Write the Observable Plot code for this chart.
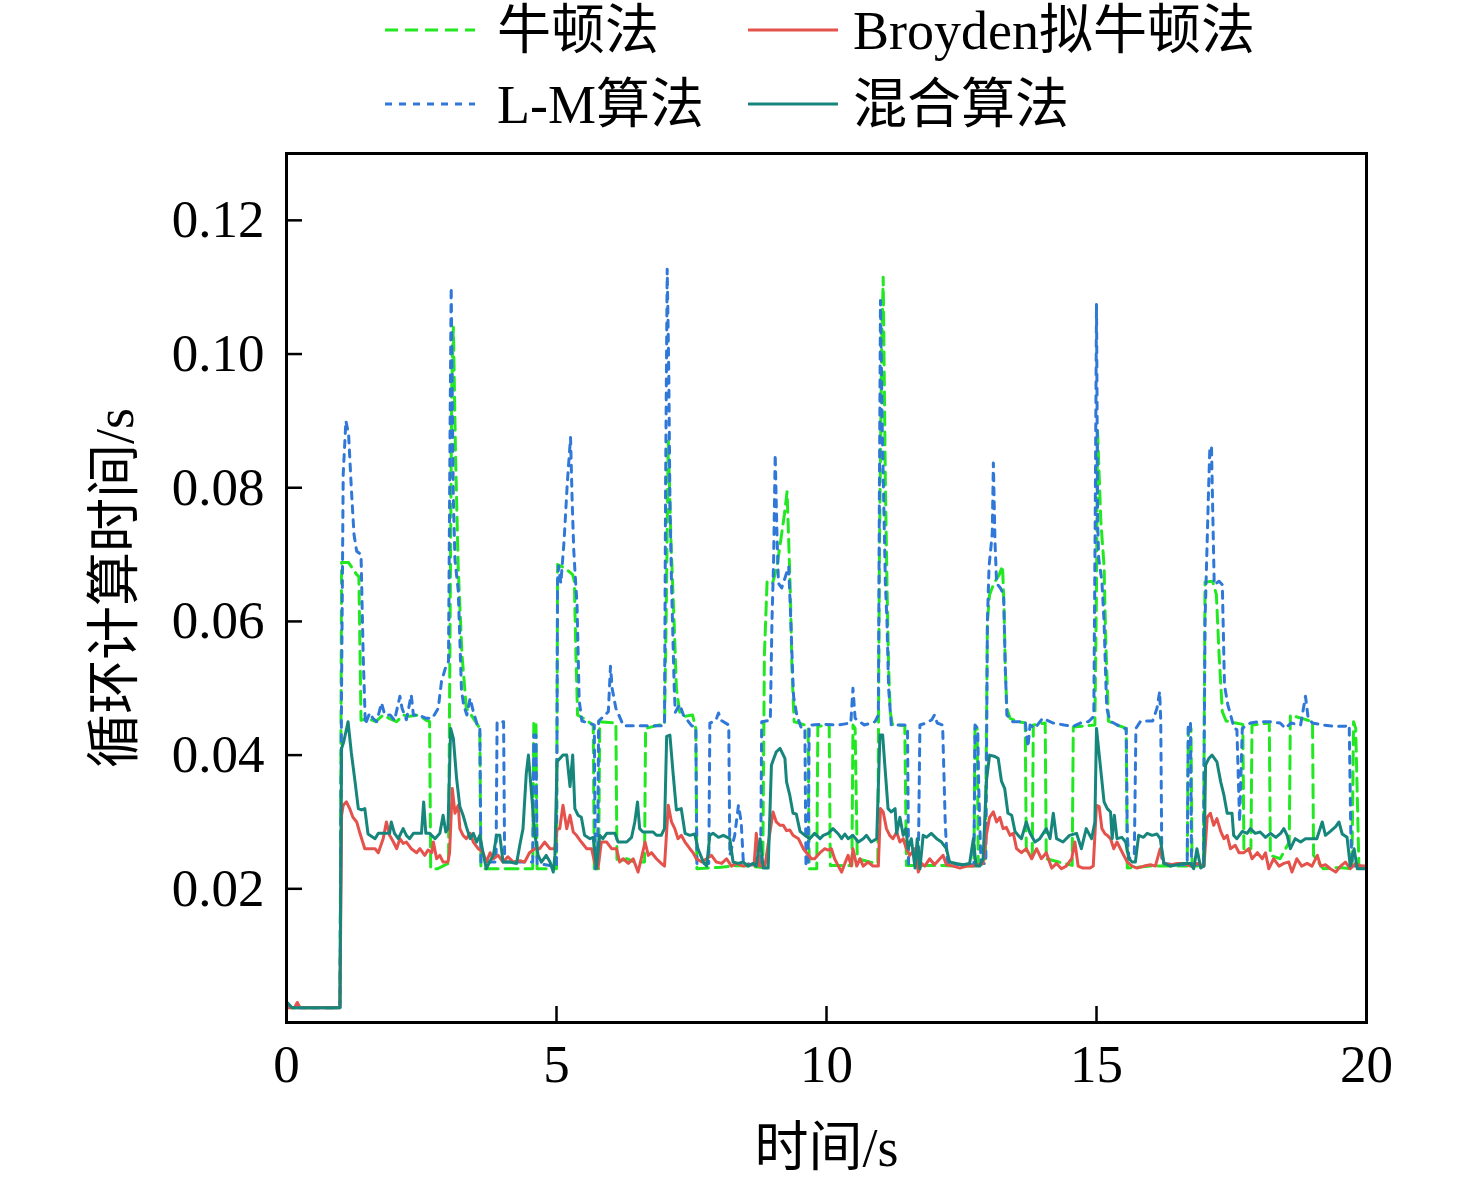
<!DOCTYPE html>
<html>
<head>
<meta charset="utf-8">
<script src="https://cdn.jsdelivr.net/npm/d3@7"></script>
<script src="https://cdn.jsdelivr.net/npm/@observablehq/plot@0.6"></script>
<style>
  html, body { margin: 0; padding: 0; background: #fff; }
  #wrap { position: relative; width: 1476px; height: 1186px; }
  #legend { position: absolute; left: 0; top: 0; }
  text { font-family: "Liberation Serif", "Noto Sans CJK SC", serif; }
</style>
</head>
<body>
<div id="wrap"><div id="chart"></div></div>
<script>
// ---------- data (time in s, loop computation time in s) ----------
const seriesNames = ["牛顿法", "L-M算法", "Broyden拟牛顿法", "混合算法"];
const seriesColors = ["#22e822", "#2f78d8", "#e5524c", "#16857c"];
const xTicks = [0, 5, 10, 15, 20];
const yTicks = [0.02, 0.04, 0.06, 0.08, 0.10, 0.12];

const newton = [[0,0.003],[0.1,0.0022],[0.99,0.0022],[1.02,0.0688],[1.15,0.0688],[1.3,0.067],[1.34,0.0667],[1.38,0.0452],[1.5,0.0455],[1.65,0.045],[1.79,0.046],[1.9,0.0455],[2.04,0.045],[2.16,0.046],[2.28,0.0458],[2.44,0.046],[2.59,0.0452],[2.65,0.045],[2.67,0.023],[2.8,0.023],[2.92,0.0235],[3.0,0.0238],[3.03,0.06],[3.06,0.095],[3.09,0.104],[3.13,0.085],[3.18,0.068],[3.25,0.055],[3.33,0.047],[3.42,0.046],[3.5,0.045],[3.58,0.044],[3.6,0.023],[4.56,0.023],[4.58,0.045],[4.62,0.045],[4.64,0.023],[5.0,0.023],[5.02,0.0685],[5.15,0.068],[5.3,0.067],[5.33,0.066],[5.36,0.055],[5.39,0.046],[5.5,0.0455],[5.68,0.0445],[5.7,0.023],[5.78,0.023],[5.8,0.045],[6.1,0.0448],[6.12,0.024],[6.3,0.0245],[6.45,0.024],[6.63,0.024],[6.65,0.044],[6.9,0.0445],[7.0,0.0445],[7.03,0.06],[7.07,0.087],[7.12,0.072],[7.18,0.0595],[7.22,0.050],[7.28,0.0465],[7.37,0.0458],[7.52,0.046],[7.58,0.044],[7.6,0.023],[8.0,0.0232],[8.4,0.0235],[8.82,0.0232],[8.85,0.055],[8.9,0.066],[9.0,0.0657],[9.08,0.068],[9.15,0.072],[9.22,0.076],[9.27,0.0794],[9.3,0.072],[9.33,0.0645],[9.36,0.053],[9.4,0.045],[9.5,0.0448],[9.66,0.0443],[9.68,0.023],[9.82,0.023],[9.84,0.0443],[10.05,0.0445],[10.07,0.0235],[10.47,0.0235],[10.49,0.0445],[10.53,0.044],[10.57,0.0245],[10.8,0.024],[10.95,0.0238],[10.98,0.07],[11.02,0.1],[11.05,0.1115],[11.09,0.0807],[11.12,0.0657],[11.15,0.0532],[11.18,0.0465],[11.22,0.0446],[11.45,0.0444],[11.48,0.0235],[12.0,0.0235],[12.5,0.0234],[12.73,0.0234],[12.75,0.044],[12.79,0.044],[12.81,0.0236],[12.94,0.0238],[12.98,0.06],[13.02,0.064],[13.1,0.0657],[13.2,0.067],[13.26,0.0683],[13.29,0.0614],[13.31,0.0532],[13.34,0.047],[13.4,0.0455],[13.55,0.045],[13.68,0.0448],[13.7,0.0255],[13.81,0.025],[13.83,0.0445],[14.05,0.0448],[14.07,0.0245],[14.3,0.024],[14.55,0.0235],[14.57,0.0442],[14.97,0.0445],[15.0,0.065],[15.02,0.0885],[15.08,0.075],[15.14,0.0683],[15.17,0.0575],[15.2,0.0505],[15.22,0.0451],[15.35,0.0446],[15.55,0.044],[15.57,0.0231],[16.0,0.0234],[16.68,0.0234],[16.7,0.044],[16.75,0.044],[16.77,0.0234],[16.98,0.0234],[17.01,0.0659],[17.15,0.066],[17.22,0.064],[17.27,0.055],[17.33,0.0465],[17.4,0.0451],[17.58,0.0448],[17.71,0.0446],[17.73,0.0255],[17.86,0.026],[17.88,0.0445],[18.2,0.0448],[18.22,0.025],[18.4,0.0245],[18.57,0.027],[18.59,0.046],[18.8,0.0455],[19.0,0.045],[19.02,0.025],[19.2,0.023],[19.5,0.0232],[19.73,0.023],[19.76,0.045],[19.8,0.044],[19.86,0.0232],[20.0,0.0232]];

const levenberg = [[0,0.003],[0.1,0.0022],[0.99,0.0022],[1.02,0.05],[1.05,0.082],[1.1,0.090],[1.15,0.088],[1.2,0.080],[1.25,0.073],[1.3,0.0705],[1.38,0.070],[1.42,0.055],[1.46,0.0446],[1.54,0.0463],[1.6,0.0455],[1.67,0.045],[1.76,0.0478],[1.82,0.046],[1.92,0.046],[2.0,0.0452],[2.1,0.0488],[2.14,0.047],[2.22,0.0453],[2.31,0.049],[2.35,0.046],[2.44,0.046],[2.59,0.0455],[2.7,0.0455],[2.81,0.047],[2.87,0.051],[2.96,0.0535],[3.0,0.054],[3.03,0.09],[3.05,0.110],[3.07,0.0931],[3.09,0.0782],[3.12,0.0692],[3.18,0.0647],[3.21,0.0573],[3.24,0.0498],[3.28,0.0475],[3.34,0.046],[3.4,0.0485],[3.46,0.0465],[3.53,0.0446],[3.58,0.0444],[3.6,0.024],[3.88,0.024],[3.9,0.045],[4.02,0.045],[4.04,0.024],[4.56,0.024],[4.58,0.043],[4.62,0.043],[4.64,0.0238],[4.94,0.0234],[5.0,0.0234],[5.02,0.066],[5.04,0.0683],[5.08,0.0657],[5.14,0.072],[5.2,0.0807],[5.26,0.0875],[5.29,0.078],[5.32,0.0706],[5.35,0.0664],[5.38,0.0626],[5.42,0.0482],[5.47,0.0451],[5.6,0.0448],[5.7,0.0445],[5.72,0.023],[5.76,0.023],[5.78,0.0451],[5.9,0.046],[5.96,0.0465],[6.0,0.0533],[6.03,0.05],[6.1,0.047],[6.24,0.0444],[6.5,0.0444],[6.8,0.0444],[7.0,0.0444],[7.02,0.08],[7.05,0.1127],[7.08,0.0968],[7.1,0.0783],[7.13,0.0657],[7.16,0.0563],[7.18,0.0501],[7.2,0.0464],[7.28,0.0476],[7.35,0.046],[7.5,0.0444],[7.58,0.0442],[7.6,0.0238],[7.82,0.0238],[7.84,0.0448],[7.95,0.0452],[8.0,0.0463],[8.05,0.0452],[8.19,0.0445],[8.21,0.025],[8.3,0.028],[8.37,0.0325],[8.42,0.030],[8.46,0.024],[8.6,0.0236],[8.78,0.0236],[8.8,0.045],[8.96,0.0452],[8.99,0.06],[9.02,0.0688],[9.05,0.085],[9.08,0.074],[9.11,0.0657],[9.17,0.065],[9.3,0.0682],[9.34,0.06],[9.37,0.053],[9.39,0.0488],[9.45,0.046],[9.54,0.0439],[9.6,0.0439],[9.62,0.0235],[9.66,0.0235],[9.68,0.0445],[9.9,0.0446],[10.2,0.0445],[10.45,0.0448],[10.49,0.050],[10.53,0.0455],[10.7,0.0445],[10.9,0.045],[10.96,0.046],[10.98,0.08],[11.0,0.108],[11.03,0.09],[11.09,0.0657],[11.12,0.06],[11.15,0.05],[11.2,0.0445],[11.45,0.0445],[11.5,0.044],[11.52,0.0236],[11.7,0.0236],[11.73,0.0445],[11.85,0.0448],[11.95,0.0453],[12.0,0.046],[12.05,0.0448],[12.15,0.0445],[12.2,0.0296],[12.24,0.0238],[12.5,0.0236],[12.73,0.0236],[12.75,0.0445],[12.8,0.044],[12.82,0.035],[12.86,0.0238],[12.95,0.0238],[12.98,0.06],[13.01,0.0682],[13.07,0.0732],[13.09,0.0837],[13.12,0.072],[13.15,0.0657],[13.22,0.065],[13.28,0.064],[13.31,0.0533],[13.34,0.046],[13.45,0.045],[13.68,0.045],[13.73,0.0412],[13.77,0.0445],[13.86,0.044],[14.0,0.0455],[14.2,0.0448],[14.4,0.0445],[14.57,0.0443],[14.7,0.0448],[14.85,0.045],[14.95,0.0458],[14.98,0.08],[15.0,0.1074],[15.01,0.0932],[15.02,0.0754],[15.04,0.0695],[15.1,0.066],[15.14,0.06],[15.17,0.0517],[15.19,0.047],[15.25,0.0451],[15.5,0.044],[15.55,0.044],[15.57,0.028],[15.6,0.0245],[15.7,0.025],[15.73,0.044],[15.82,0.0451],[16.04,0.0451],[16.12,0.047],[16.17,0.0495],[16.19,0.045],[16.21,0.0238],[16.5,0.0236],[16.68,0.0236],[16.7,0.0448],[16.74,0.0448],[16.76,0.0236],[16.98,0.0236],[17.01,0.06],[17.07,0.0782],[17.1,0.0862],[17.13,0.086],[17.15,0.0775],[17.18,0.0655],[17.27,0.066],[17.33,0.0655],[17.37,0.0505],[17.43,0.0476],[17.55,0.044],[17.6,0.0438],[17.65,0.030],[17.7,0.044],[17.85,0.0448],[18.0,0.045],[18.2,0.045],[18.4,0.0448],[18.5,0.044],[18.6,0.0448],[18.78,0.0445],[18.87,0.0488],[18.92,0.0455],[19.0,0.0448],[19.2,0.0445],[19.4,0.0443],[19.6,0.0443],[19.68,0.0445],[19.71,0.028],[19.74,0.0234],[19.85,0.0234],[20.0,0.0234]];

const broyden = [[0,0.0022],[0.15,0.0022],[0.2,0.003],[0.25,0.0022],[0.99,0.0022],[1.02,0.031],[1.05,0.0325],[1.11,0.033],[1.17,0.032],[1.23,0.0307],[1.3,0.030],[1.36,0.0283],[1.45,0.026],[1.55,0.026],[1.64,0.026],[1.7,0.0254],[1.79,0.0275],[1.85,0.030],[1.91,0.028],[1.98,0.027],[2.04,0.026],[2.1,0.0275],[2.16,0.0268],[2.22,0.027],[2.31,0.026],[2.41,0.0254],[2.47,0.026],[2.56,0.025],[2.62,0.0258],[2.69,0.0254],[2.72,0.027],[2.78,0.0245],[2.84,0.025],[2.9,0.024],[2.99,0.024],[3.02,0.0254],[3.07,0.035],[3.12,0.0313],[3.18,0.0325],[3.21,0.029],[3.27,0.028],[3.33,0.0275],[3.4,0.0283],[3.46,0.027],[3.55,0.026],[3.64,0.0254],[3.7,0.024],[3.77,0.0254],[3.83,0.0245],[3.92,0.025],[4.01,0.024],[4.1,0.0248],[4.2,0.024],[4.32,0.0242],[4.41,0.024],[4.5,0.0254],[4.6,0.026],[4.69,0.026],[4.78,0.027],[4.88,0.026],[4.97,0.026],[5.01,0.029],[5.06,0.029],[5.12,0.0325],[5.19,0.029],[5.25,0.031],[5.31,0.0285],[5.37,0.028],[5.46,0.027],[5.56,0.026],[5.65,0.026],[5.71,0.0238],[5.77,0.0231],[5.83,0.027],[5.93,0.027],[6.02,0.026],[6.11,0.026],[6.17,0.024],[6.23,0.0245],[6.33,0.0238],[6.42,0.0245],[6.51,0.0225],[6.57,0.0245],[6.64,0.027],[6.7,0.025],[6.76,0.0254],[6.85,0.0245],[6.94,0.0238],[7.0,0.0234],[7.07,0.0325],[7.13,0.030],[7.19,0.029],[7.25,0.0275],[7.31,0.028],[7.38,0.027],[7.47,0.026],[7.53,0.0254],[7.59,0.0245],[7.69,0.024],[7.78,0.0245],[7.87,0.025],[7.96,0.024],[8.06,0.0238],[8.15,0.0245],[8.24,0.0234],[8.33,0.0238],[8.46,0.0234],[8.58,0.0236],[8.66,0.0236],[8.7,0.0283],[8.76,0.0234],[8.86,0.0234],[8.95,0.0283],[9.01,0.0315],[9.07,0.030],[9.14,0.0295],[9.2,0.0295],[9.26,0.0287],[9.32,0.0288],[9.38,0.028],[9.48,0.0275],[9.57,0.026],[9.63,0.0254],[9.72,0.0245],[9.78,0.0245],[9.88,0.0254],[9.97,0.026],[10.03,0.0258],[10.09,0.026],[10.15,0.0245],[10.22,0.0234],[10.28,0.0225],[10.34,0.0238],[10.4,0.025],[10.46,0.0234],[10.49,0.026],[10.56,0.0234],[10.62,0.0245],[10.68,0.0234],[10.77,0.024],[10.86,0.0234],[10.96,0.0234],[11.0,0.032],[11.05,0.0315],[11.11,0.029],[11.17,0.028],[11.23,0.0275],[11.3,0.0285],[11.36,0.027],[11.42,0.0275],[11.48,0.026],[11.54,0.025],[11.64,0.026],[11.7,0.0225],[11.76,0.0238],[11.82,0.0234],[11.91,0.0245],[12.0,0.0236],[12.1,0.0245],[12.16,0.025],[12.22,0.0236],[12.35,0.0234],[12.47,0.0231],[12.6,0.0234],[12.72,0.0234],[12.81,0.0236],[12.9,0.0238],[12.96,0.028],[13.02,0.0307],[13.09,0.0315],[13.15,0.030],[13.21,0.0307],[13.27,0.029],[13.33,0.0292],[13.4,0.028],[13.46,0.0283],[13.52,0.026],[13.61,0.0254],[13.7,0.026],[13.8,0.0245],[13.89,0.026],[13.98,0.0245],[14.07,0.0254],[14.17,0.0231],[14.26,0.0238],[14.35,0.023],[14.44,0.0234],[14.54,0.0245],[14.6,0.027],[14.66,0.0234],[14.75,0.0231],[14.88,0.0231],[14.94,0.0234],[15.0,0.0325],[15.05,0.0323],[15.1,0.029],[15.16,0.0282],[15.2,0.028],[15.26,0.0275],[15.32,0.026],[15.38,0.027],[15.48,0.0254],[15.57,0.024],[15.66,0.0234],[15.75,0.0231],[15.88,0.0234],[16.0,0.0236],[16.09,0.0234],[16.18,0.026],[16.25,0.0238],[16.37,0.0236],[16.5,0.0238],[16.62,0.0238],[16.74,0.0234],[16.86,0.0238],[16.99,0.0234],[17.05,0.0307],[17.11,0.0313],[17.17,0.0295],[17.23,0.0305],[17.3,0.0286],[17.36,0.0275],[17.42,0.028],[17.48,0.026],[17.57,0.0265],[17.64,0.0254],[17.73,0.0254],[17.82,0.026],[17.88,0.0245],[17.98,0.0254],[18.07,0.0245],[18.13,0.0254],[18.19,0.023],[18.28,0.0245],[18.38,0.0234],[18.47,0.0238],[18.56,0.024],[18.62,0.0225],[18.71,0.0245],[18.8,0.0234],[18.9,0.0238],[18.99,0.0234],[19.09,0.025],[19.15,0.0234],[19.24,0.0236],[19.33,0.023],[19.43,0.0225],[19.52,0.0234],[19.61,0.024],[19.7,0.023],[19.8,0.0238],[19.89,0.0234],[20.0,0.0234]];

const hybrid = [[0,0.0031],[0.1,0.0022],[0.99,0.0022],[1.02,0.041],[1.06,0.042],[1.14,0.045],[1.2,0.0404],[1.27,0.036],[1.33,0.032],[1.39,0.0318],[1.45,0.032],[1.51,0.0282],[1.64,0.0275],[1.7,0.0283],[1.91,0.0283],[1.94,0.030],[2.0,0.0283],[2.07,0.0275],[2.16,0.029],[2.22,0.028],[2.28,0.0275],[2.35,0.0283],[2.5,0.0283],[2.54,0.033],[2.58,0.0283],[2.65,0.0283],[2.75,0.0275],[2.84,0.0283],[2.9,0.031],[2.95,0.0285],[2.99,0.029],[3.04,0.044],[3.09,0.0425],[3.15,0.0365],[3.21,0.0323],[3.27,0.031],[3.33,0.0293],[3.4,0.0275],[3.46,0.0283],[3.52,0.027],[3.58,0.028],[3.64,0.0254],[3.7,0.023],[3.76,0.024],[3.83,0.025],[3.89,0.028],[3.95,0.028],[4.01,0.024],[4.14,0.024],[4.26,0.0238],[4.32,0.0265],[4.38,0.029],[4.44,0.0372],[4.48,0.040],[4.54,0.034],[4.6,0.028],[4.66,0.025],[4.72,0.024],[4.81,0.025],[4.88,0.024],[4.94,0.0225],[4.97,0.025],[5.01,0.039],[5.12,0.040],[5.19,0.040],[5.25,0.0353],[5.3,0.040],[5.34,0.032],[5.4,0.031],[5.46,0.0307],[5.52,0.028],[5.62,0.0275],[5.68,0.0277],[5.74,0.0231],[5.8,0.028],[5.86,0.0275],[5.93,0.0283],[6.08,0.0283],[6.14,0.027],[6.3,0.027],[6.39,0.0277],[6.45,0.030],[6.5,0.033],[6.54,0.029],[6.6,0.0285],[6.7,0.0285],[6.79,0.0285],[6.85,0.028],[6.94,0.028],[7.0,0.029],[7.04,0.0428],[7.1,0.043],[7.16,0.0372],[7.22,0.0318],[7.31,0.032],[7.38,0.0283],[7.47,0.028],[7.56,0.0282],[7.62,0.026],[7.72,0.024],[7.78,0.0234],[7.84,0.028],[7.9,0.0283],[8.0,0.0277],[8.09,0.028],[8.21,0.0275],[8.27,0.024],[8.36,0.0238],[8.46,0.024],[8.55,0.0234],[8.64,0.0238],[8.7,0.0234],[8.77,0.0275],[8.83,0.0231],[8.92,0.0231],[8.98,0.0385],[9.07,0.0405],[9.14,0.041],[9.23,0.0395],[9.26,0.036],[9.32,0.034],[9.38,0.0313],[9.44,0.0312],[9.51,0.0286],[9.6,0.028],[9.69,0.0275],[9.78,0.0283],[9.88,0.0275],[9.94,0.028],[10.03,0.0283],[10.12,0.029],[10.22,0.0282],[10.28,0.0275],[10.34,0.0282],[10.4,0.0275],[10.49,0.028],[10.59,0.027],[10.68,0.0275],[10.74,0.028],[10.83,0.027],[10.93,0.0275],[10.99,0.043],[11.04,0.043],[11.08,0.0385],[11.14,0.032],[11.2,0.0315],[11.27,0.032],[11.3,0.0283],[11.36,0.0307],[11.42,0.028],[11.47,0.029],[11.51,0.026],[11.57,0.0275],[11.64,0.0231],[11.68,0.0275],[11.73,0.023],[11.79,0.028],[11.85,0.0277],[11.94,0.0283],[12.04,0.0275],[12.13,0.027],[12.22,0.026],[12.28,0.024],[12.4,0.0238],[12.53,0.0236],[12.65,0.0238],[12.72,0.0275],[12.77,0.0234],[12.84,0.0234],[12.9,0.0245],[12.96,0.036],[13.02,0.040],[13.12,0.0398],[13.18,0.0395],[13.24,0.0361],[13.3,0.035],[13.36,0.0313],[13.43,0.031],[13.49,0.0286],[13.55,0.028],[13.61,0.0275],[13.7,0.030],[13.77,0.0283],[13.86,0.027],[13.95,0.0275],[14.07,0.029],[14.14,0.0275],[14.2,0.0313],[14.26,0.0275],[14.38,0.027],[14.5,0.028],[14.63,0.0283],[14.72,0.026],[14.81,0.029],[14.91,0.0275],[14.97,0.030],[15.0,0.044],[15.07,0.0385],[15.14,0.033],[15.2,0.032],[15.26,0.0315],[15.29,0.0275],[15.33,0.031],[15.38,0.0275],[15.47,0.0277],[15.54,0.027],[15.6,0.0245],[15.66,0.024],[15.72,0.024],[15.78,0.028],[15.87,0.0277],[15.94,0.0283],[16.03,0.028],[16.12,0.0282],[16.18,0.0275],[16.25,0.0238],[16.37,0.0234],[16.5,0.0236],[16.62,0.0238],[16.74,0.0238],[16.8,0.023],[16.86,0.026],[16.93,0.0231],[16.99,0.0234],[17.02,0.0385],[17.08,0.0395],[17.14,0.040],[17.23,0.039],[17.3,0.036],[17.36,0.034],[17.42,0.0313],[17.51,0.0313],[17.54,0.028],[17.6,0.0275],[17.7,0.0286],[17.79,0.0283],[17.85,0.029],[17.94,0.0283],[18.03,0.0285],[18.13,0.0277],[18.22,0.0283],[18.32,0.0277],[18.41,0.0283],[18.47,0.029],[18.53,0.028],[18.59,0.026],[18.68,0.0275],[18.78,0.027],[18.87,0.0275],[18.96,0.0275],[19.08,0.0275],[19.18,0.030],[19.24,0.028],[19.33,0.0286],[19.43,0.0293],[19.49,0.030],[19.55,0.0282],[19.64,0.0277],[19.7,0.0234],[19.77,0.026],[19.83,0.023],[19.92,0.023],[20.0,0.023]];

// ---------- chart ----------
const FONT = '"Liberation Serif", "Noto Sans CJK SC", serif';
const W = 1476, H = 1186;
const mL = 286, mR = 110, mT = 153, mB = 164;
const plotW = W - mL - mR, plotH = H - mT - mB;
const tickLen = 16;

const seriesData = [newton, levenberg, broyden, hybrid];
const dashes = ["13,7", "7,7", null, null];

const lineMarks = seriesData.map((s, i) =>
  Plot.line(s, {
    x: d => d[0], y: d => d[1],
    stroke: seriesColors[i], strokeWidth: 3,
    strokeDasharray: dashes[i] ?? undefined,
    strokeLinejoin: "round"
  })
);

const chart = Plot.plot({
  width: W, height: H,
  marginLeft: mL, marginRight: mR, marginTop: mT, marginBottom: mB,
  style: { fontFamily: FONT, background: "white", color: "black" },
  x: { domain: [0, 20] },
  y: { domain: [0, 0.13] },
  marks: [
    ...lineMarks,
    Plot.tickX(xTicks, { x: d => d, stroke: "black", strokeWidth: 2.5, insetTop: plotH - tickLen }),
    Plot.tickY(yTicks, { y: d => d, stroke: "black", strokeWidth: 2.5, insetRight: plotW - tickLen }),
    Plot.frame({ stroke: "black", strokeWidth: 3 }),
    Plot.axisX({ ticks: xTicks, tickSize: 0, tickPadding: 22, fontSize: 53, tickFormat: d => String(d), label: null, fontFamily: FONT }),
    Plot.axisY({ ticks: yTicks, tickSize: 0, tickPadding: 22, fontSize: 53, tickFormat: d3.format(".2f"), label: null, fontFamily: FONT }),
    Plot.text(["时间/s"], { text: d => d, frameAnchor: "bottom", dy: 126, fontSize: 54, lineAnchor: "middle", textAnchor: "middle", fill: "black", fontFamily: FONT }),
    Plot.text(["循环计算时间/s"], { text: d => d, frameAnchor: "left", dx: -171, rotate: -90, fontSize: 54, lineAnchor: "middle", textAnchor: "middle", fill: "black", fontFamily: FONT })
  ]
});
document.getElementById("chart").appendChild(chart);

// ---------- legend (2 columns, column-major like the source) ----------
const legendPos = [
  { sx: 385, tx: 497, y: 30 },
  { sx: 385, tx: 497, y: 104 },
  { sx: 748, tx: 853, y: 30 },
  { sx: 748, tx: 853, y: 104 }
];
const lg = d3.select("#wrap").append("svg")
  .attr("id", "legend").attr("width", W).attr("height", 150);
seriesNames.forEach((name, i) => {
  const p = legendPos[i];
  lg.append("line")
    .attr("x1", p.sx).attr("x2", p.sx + 90).attr("y1", p.y).attr("y2", p.y)
    .attr("stroke", seriesColors[i]).attr("stroke-width", 3)
    .attr("stroke-dasharray", dashes[i]);
  lg.append("text")
    .attr("x", p.tx).attr("y", p.y).attr("dy", "0.35em")
    .attr("font-size", 54).attr("fill", "black")
    .style("font-family", FONT)
    .text(name);
});
</script>
</body>
</html>
